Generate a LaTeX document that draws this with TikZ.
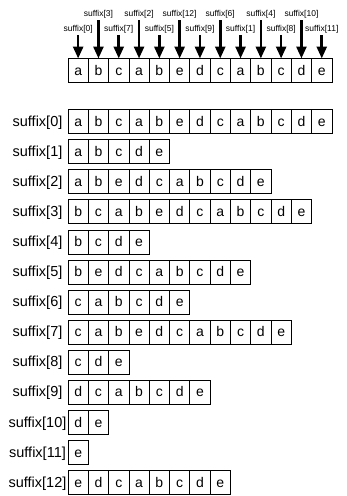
\documentclass[tikz,border=0pt]{standalone}
\usepackage{fontspec}
\setmainfont{Liberation Sans}
\usetikzlibrary{positioning, arrows.meta}

\tikzset{
  cell/.style={draw, line width=0.8pt, minimum width=20.3pt, minimum height=24pt,
    inner sep=0pt, outer sep=0pt, text height=9pt, text depth=0pt,
    font=\fontsize{14}{14}\selectfont},
  rowlabel/.style={inner sep=0pt, text height=9pt, text depth=0pt,
    font=\fontsize{14.5}{14.5}\selectfont},
  toplabel/.style={anchor=base, inner sep=1pt, font=\fontsize{8.5}{8.5}\selectfont},
  pointer/.style={line width=2.6pt, shorten <=1pt, -{Triangle[length=12pt,width=10pt]}}
}

\begin{document}
\begin{tikzpicture}[x=1pt, y=-1pt]
  \useasboundingbox (0,0) rectangle (346,496);

  % the string with its suffix pointers
  \foreach \ch [count=\j from 0] in {a,b,c,a,b,e,d,c,a,b,c,d,e}
    \node[cell] (t\j) at ({68+20.3*(\j+0.5)}, 70.5) {\ch};
  \foreach \s [count=\j from 0] in {0,3,7,2,5,12,9,6,1,4,8,10,11} {
    \ifodd\j
      \node[toplabel] (p\j) at ({68+20.3*(\j+0.5)}, 16.5) {suffix[\s]};
    \else
      \node[toplabel] (p\j) at ({68+20.3*(\j+0.5)}, 31) {suffix[\s]};
    \fi
    \draw[pointer] (p\j.south) -- (t\j.north);
  }

  % the sorted suffixes
  \foreach \k/\word in {0/{a,b,c,a,b,e,d,c,a,b,c,d,e}, 1/{a,b,c,d,e},
      2/{a,b,e,d,c,a,b,c,d,e}, 3/{b,c,a,b,e,d,c,a,b,c,d,e}, 4/{b,c,d,e},
      5/{b,e,d,c,a,b,c,d,e}, 6/{c,a,b,c,d,e}, 7/{c,a,b,e,d,c,a,b,c,d,e},
      8/{c,d,e}, 9/{d,c,a,b,c,d,e}, 10/{d,e}, 11/{e}, 12/{e,d,c,a,b,c,d,e}} {
    \node[rowlabel] (l\k) at (37.5, {121.5+30.1*\k}) {suffix[\k]};
    \foreach \ch [count=\j from 0] in \word
      \node[cell] (r\k-\j) at ({68+20.3*(\j+0.5)}, {121.5+30.1*\k}) {\ch};
  }
\end{tikzpicture}
\end{document}
